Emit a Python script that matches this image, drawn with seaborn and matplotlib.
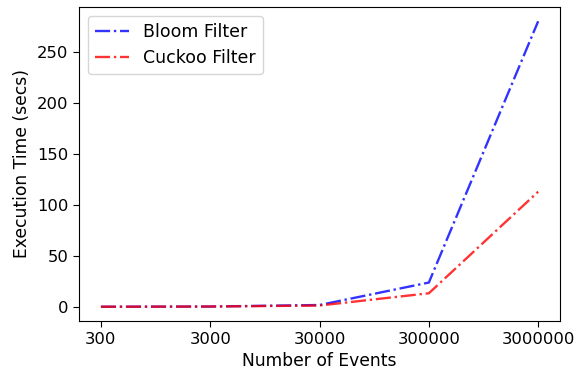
import matplotlib
matplotlib.use("Agg")
import matplotlib.pyplot as plt
import seaborn as sns
import pandas as pd

events = ["300", "3000", "30000", "300000", "3000000"]
bloom = [0.3, 0.5, 2.0, 24.0, 280.0]
cuckoo = [0.3, 0.5, 1.5, 13.5, 113.0]

df = pd.DataFrame({"events": events, "bloom": bloom, "cuckoo": cuckoo})

plt.rcParams.update({
    "font.size": 12,
    "axes.labelsize": 12.3,
    "xtick.labelsize": 11.8,
    "ytick.labelsize": 11.8,
    "legend.fontsize": 12.5,
    "xtick.major.size": 4.3,
    "ytick.major.size": 4.3,
})

fig = plt.figure(figsize=(5.77, 3.77), dpi=100)
ax = fig.add_axes([0.137, 0.1485, 0.8336, 0.833])
sns.lineplot(data=df, x="events", y="bloom", ax=ax, color="blue", alpha=0.8,
             linestyle="-.", linewidth=1.7, label="Bloom Filter", sort=False)
sns.lineplot(data=df, x="events", y="cuckoo", ax=ax, color="red", alpha=0.8,
             linestyle="-.", linewidth=1.7, label="Cuckoo Filter", sort=False)
ax.set_xlabel("Number of Events")
ax.set_ylabel("Execution Time (secs)")
ax.legend(loc="upper left")
fig.savefig("out.png", dpi=100)
